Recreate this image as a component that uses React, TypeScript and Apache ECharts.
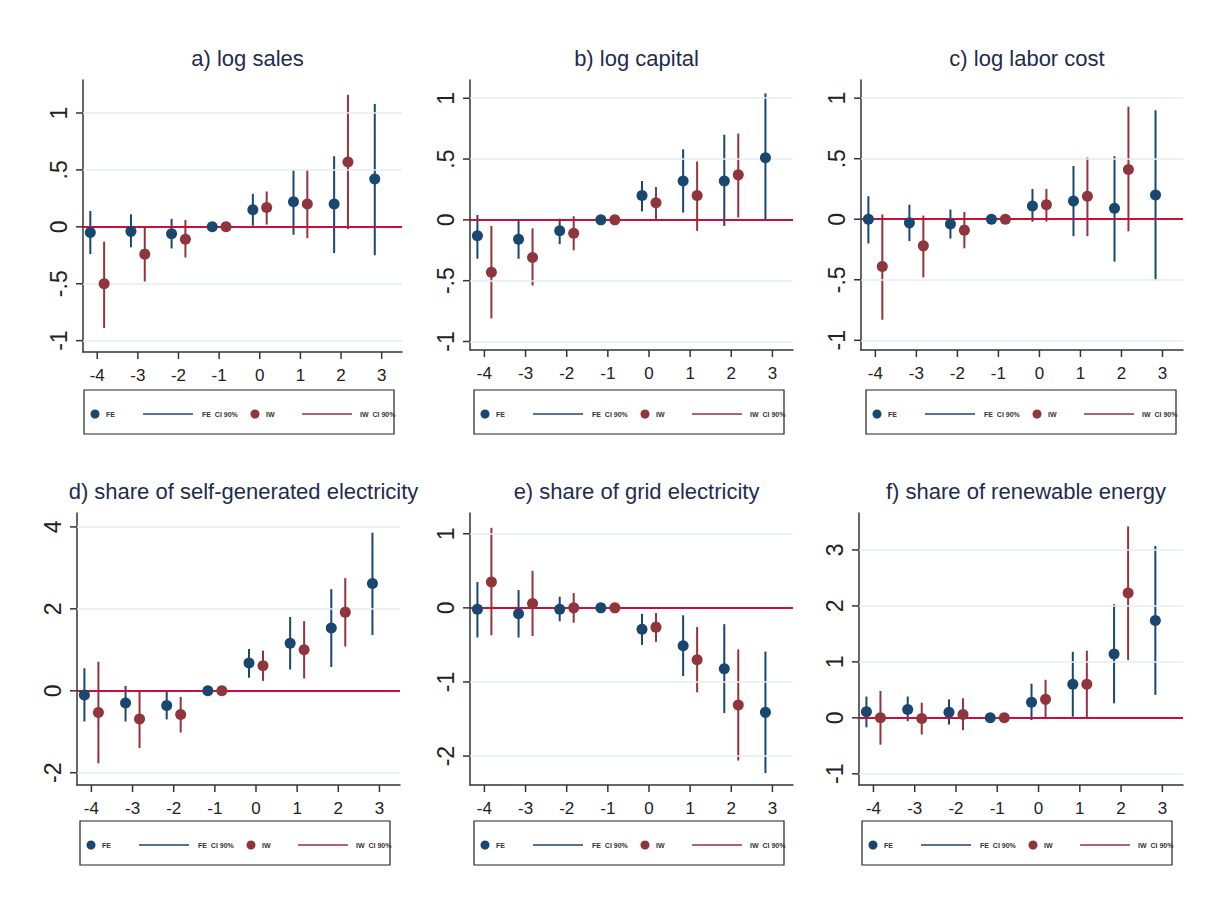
import React, { useEffect, useRef } from 'react';
import * as echarts from 'echarts';

const periods = [-4, -3, -2, -1, 0, 1, 2, 3];
const iwPeriods = [-4, -3, -2, -1, 0, 1, 2];

const titles = [
  'a) log sales',
  'b) log capital',
  'c) log labor cost',
  'd) share of self-generated electricity',
  'e) share of grid electricity',
  'f) share of renewable energy',
];

// FE estimates [coef, lo, hi] per period
const feA = [[-0.05, -0.24, 0.14], [-0.04, -0.18, 0.11], [-0.06, -0.19, 0.07], [0, 0, 0], [0.15, 0.01, 0.29], [0.22, -0.07, 0.5], [0.2, -0.23, 0.62], [0.42, -0.25, 1.08]];
const iwA = [[-0.5, -0.89, -0.13], [-0.24, -0.48, 0], [-0.11, -0.27, 0.06], [0, 0, 0], [0.17, 0.02, 0.31], [0.2, -0.1, 0.5], [0.57, -0.02, 1.16]];
const feB = [[-0.13, -0.32, 0.04], [-0.16, -0.32, 0], [-0.09, -0.2, 0.01], [0, 0, 0], [0.2, 0.07, 0.32], [0.32, 0.06, 0.58], [0.32, -0.05, 0.7], [0.51, 0, 1.04]];
const iwB = [[-0.43, -0.81, -0.05], [-0.31, -0.54, -0.07], [-0.11, -0.25, 0.03], [0, 0, 0], [0.14, 0, 0.27], [0.2, -0.09, 0.48], [0.37, 0.02, 0.71]];
const feC = [[0, -0.2, 0.19], [-0.03, -0.18, 0.12], [-0.04, -0.16, 0.08], [0, 0, 0], [0.11, -0.02, 0.25], [0.15, -0.14, 0.44], [0.09, -0.35, 0.52], [0.2, -0.5, 0.9]];
const iwC = [[-0.39, -0.83, 0.04], [-0.22, -0.48, 0.03], [-0.09, -0.24, 0.06], [0, 0, 0], [0.12, -0.02, 0.25], [0.19, -0.14, 0.51], [0.41, -0.1, 0.93]];
const feD = [[-0.1, -0.75, 0.55], [-0.3, -0.75, 0.12], [-0.36, -0.7, 0], [0, 0, 0], [0.68, 0.32, 1.02], [1.16, 0.52, 1.8], [1.53, 0.58, 2.48], [2.62, 1.36, 3.86]];
const iwD = [[-0.53, -1.77, 0.71], [-0.69, -1.4, 0.02], [-0.58, -1.02, -0.15], [0, 0, 0], [0.61, 0.24, 0.98], [1.0, 0.3, 1.7], [1.92, 1.08, 2.75]];
const feE = [[-0.02, -0.4, 0.35], [-0.08, -0.4, 0.24], [-0.02, -0.18, 0.15], [0, 0, 0], [-0.29, -0.5, -0.08], [-0.51, -0.92, -0.1], [-0.82, -1.42, -0.22], [-1.41, -2.23, -0.59]];
const iwE = [[0.35, -0.37, 1.08], [0.06, -0.38, 0.5], [0, -0.2, 0.2], [0, 0, 0], [-0.26, -0.46, -0.07], [-0.7, -1.14, -0.26], [-1.31, -2.06, -0.56]];
const feF = [[0.11, -0.17, 0.38], [0.15, -0.06, 0.38], [0.1, -0.12, 0.33], [0, 0, 0], [0.28, -0.04, 0.61], [0.6, 0.02, 1.18], [1.14, 0.26, 2.03], [1.74, 0.41, 3.07]];
const iwF = [[0, -0.48, 0.48], [-0.01, -0.3, 0.27], [0.06, -0.22, 0.35], [0, 0, 0], [0.33, 0, 0.68], [0.6, 0, 1.2], [2.23, 1.03, 3.42]];

const feAll = [feA, feB, feC, feD, feE, feF];
const iwAll = [iwA, iwB, iwC, iwD, iwE, iwF];

// y tick labels per panel
const yTicks = [
  [-1, -0.5, 0, 0.5, 1],
  [-1, -0.5, 0, 0.5, 1],
  [-1, -0.5, 0, 0.5, 1],
  [-2, 0, 2, 4],
  [-2, -1, 0, 1],
  [-1, 0, 1, 2, 3],
];
const yRanges = [[-1.1, 1.29], [-1.07, 1.15], [-1.08, 1.15], [-2.3, 4.34], [-2.39, 1.28], [-1.2, 3.66]];
const X_MIN = -4.35;
const X_MAX = 3.5;

// layout
const grids = [
  { left: 83, top: 80, width: 319, height: 272 },
  { left: 470, top: 80, width: 323, height: 270 },
  { left: 861, top: 80, width: 322, height: 270 },
  { left: 77, top: 513, width: 323, height: 272 },
  { left: 470, top: 513, width: 323, height: 272 },
  { left: 859, top: 513, width: 324, height: 272 },
];
const legendBoxes = [[84, 390], [474, 390], [866, 390], [80, 821], [474, 821], [862, 821]];

const FE_COLOR = '#1a476f';
const IW_COLOR = '#90353b';
const ZERO_COLOR = '#c8103a';
const AXIS_COLOR = '#333';
const FONT = 'Liberation Sans, Arial, sans-serif';
const OFFSET = 0.17;
const TICK_LEN = 7;

const fmtTick = (v: number) => {
  const s = String(v);
  return s.replace(/^0\./, '.').replace(/^-0\./, '-.');
};

const App: React.FC = () => {
  const ref = useRef<HTMLDivElement>(null);

  useEffect(() => {
    document.body.style.margin = '0';
    if (!ref.current) return;
    const chart = echarts.init(ref.current, null, { renderer: 'svg' });

    const series: any[] = [];
    const xAxis: any[] = [];
    const yAxis: any[] = [];
    const title: any[] = [];
    const graphic: any[] = [];

    const errBar = (color: string) => (params: any, api: any) => {
      const x = api.value(0);
      const p1 = api.coord([x, api.value(1)]);
      const p2 = api.coord([x, api.value(2)]);
      return {
        type: 'line',
        shape: { x1: p1[0], y1: p1[1], x2: p2[0], y2: p2[1] },
        style: { stroke: color, lineWidth: 2 },
      };
    };

    grids.forEach((g, i) => {
      const [yMin, yMax] = yRanges[i];
      title.push({
        text: titles[i],
        left: g.left + g.width / 2,
        top: g.top - 38,
        textAlign: 'center',
        textStyle: { fontFamily: FONT, fontSize: 22, fontWeight: 'normal', color: '#1e2d4f' },
      });
      xAxis.push({
        type: 'value',
        gridIndex: i,
        min: X_MIN,
        max: X_MAX,
        axisLine: { show: true, onZero: false, lineStyle: { color: AXIS_COLOR, width: 1.5 } },
        axisTick: { show: false },
        axisLabel: { customValues: periods, fontFamily: FONT, fontSize: 17, color: '#222', margin: 15 },
        splitLine: { show: false },
      });
      yAxis.push({
        type: 'value',
        gridIndex: i,
        min: yMin,
        max: yMax,
        axisLine: { show: true, onZero: false, lineStyle: { color: AXIS_COLOR, width: 1.5 } },
        axisTick: { show: false },
        axisLabel: {
          customValues: yTicks[i],
          rotate: 90,
          formatter: (v: number) => fmtTick(v),
          fontFamily: FONT,
          fontSize: 23,
          color: '#222',
          margin: 13,
        },
        splitLine: { show: false },
      });

      const fe = feAll[i];
      const iw = iwAll[i];
      series.push({
        type: 'custom',
        xAxisIndex: i,
        yAxisIndex: i,
        renderItem: errBar(FE_COLOR),
        data: fe.map((d, k) => [periods[k] - OFFSET, d[1], d[2]]),
        z: 3,
        markLine: {
          silent: true,
          symbol: 'none',
          label: { show: false },
          lineStyle: { color: '#e6edf2', width: 1.5, type: 'solid' },
          data: yTicks[i].filter((t) => t !== 0).map((t) => ({ yAxis: t })),
        },
      });
      series.push({
        type: 'custom',
        xAxisIndex: i,
        yAxisIndex: i,
        renderItem: errBar(IW_COLOR),
        data: iw.map((d, k) => [iwPeriods[k] + OFFSET, d[1], d[2]]),
        z: 3,
        markLine: {
          silent: true,
          symbol: 'none',
          label: { show: false },
          lineStyle: { color: ZERO_COLOR, width: 1.8, type: 'solid' },
          data: [{ yAxis: 0 }],
        },
      });
      series.push({
        type: 'scatter',
        xAxisIndex: i,
        yAxisIndex: i,
        symbolSize: 11,
        itemStyle: { color: FE_COLOR, opacity: 1 },
        data: fe.map((d, k) => [periods[k] - OFFSET, d[0]]),
        z: 5,
      });
      series.push({
        type: 'scatter',
        xAxisIndex: i,
        yAxisIndex: i,
        symbolSize: 11,
        itemStyle: { color: IW_COLOR, opacity: 1 },
        data: iw.map((d, k) => [iwPeriods[k] + OFFSET, d[0]]),
        z: 5,
      });

      const [bx, by] = legendBoxes[i];
      const cy = by + 24;
      const txt = (x: number, t: string) => ({
        type: 'text',
        x,
        y: cy,
        style: { text: t, fontFamily: FONT, fontSize: 7, fontWeight: 'bold', fill: '#333', verticalAlign: 'middle' },
      });
      graphic.push(
        { type: 'rect', shape: { x: bx, y: by, width: 310, height: 44 }, style: { fill: '#fff', stroke: '#222', lineWidth: 1.2 } },
        { type: 'circle', shape: { cx: bx + 11, cy, r: 4.5 }, style: { fill: FE_COLOR } },
        txt(bx + 22, 'FE'),
        { type: 'line', shape: { x1: bx + 59, y1: cy, x2: bx + 109, y2: cy }, style: { stroke: FE_COLOR, lineWidth: 1.5 } },
        txt(bx + 118, 'FE  CI 90%'),
        { type: 'circle', shape: { cx: bx + 171, cy, r: 4.5 }, style: { fill: IW_COLOR } },
        txt(bx + 182, 'IW'),
        { type: 'line', shape: { x1: bx + 218, y1: cy, x2: bx + 268, y2: cy }, style: { stroke: IW_COLOR, lineWidth: 1.5 } },
        txt(bx + 276, 'IW  CI 90%'),
      );
    });

    chart.setOption({
      animation: false,
      backgroundColor: '#fff',
      textStyle: { fontFamily: FONT },
      title,
      grid: grids,
      xAxis,
      yAxis,
      series,
      graphic,
    });

    // outward axis ticks, placed through the axes' own scales
    const ticks: any[] = [];
    grids.forEach((g, i) => {
      const [yMin] = yRanges[i];
      periods.forEach((v) => {
        const p = chart.convertToPixel({ gridIndex: i }, [v, yMin]) as number[];
        ticks.push({ type: 'line', shape: { x1: p[0], y1: p[1], x2: p[0], y2: p[1] + TICK_LEN }, style: { stroke: AXIS_COLOR, lineWidth: 1.5 } });
      });
      yTicks[i].forEach((v) => {
        const p = chart.convertToPixel({ gridIndex: i }, [X_MIN, v]) as number[];
        ticks.push({ type: 'line', shape: { x1: p[0] - TICK_LEN, y1: p[1], x2: p[0], y2: p[1] }, style: { stroke: AXIS_COLOR, lineWidth: 1.5 } });
      });
    });
    chart.setOption({ graphic: [...graphic, ...ticks] });

    return () => chart.dispose();
  }, []);

  return <div ref={ref} style={{ width: '1211px', height: '905px' }} />;
};

export default App;
